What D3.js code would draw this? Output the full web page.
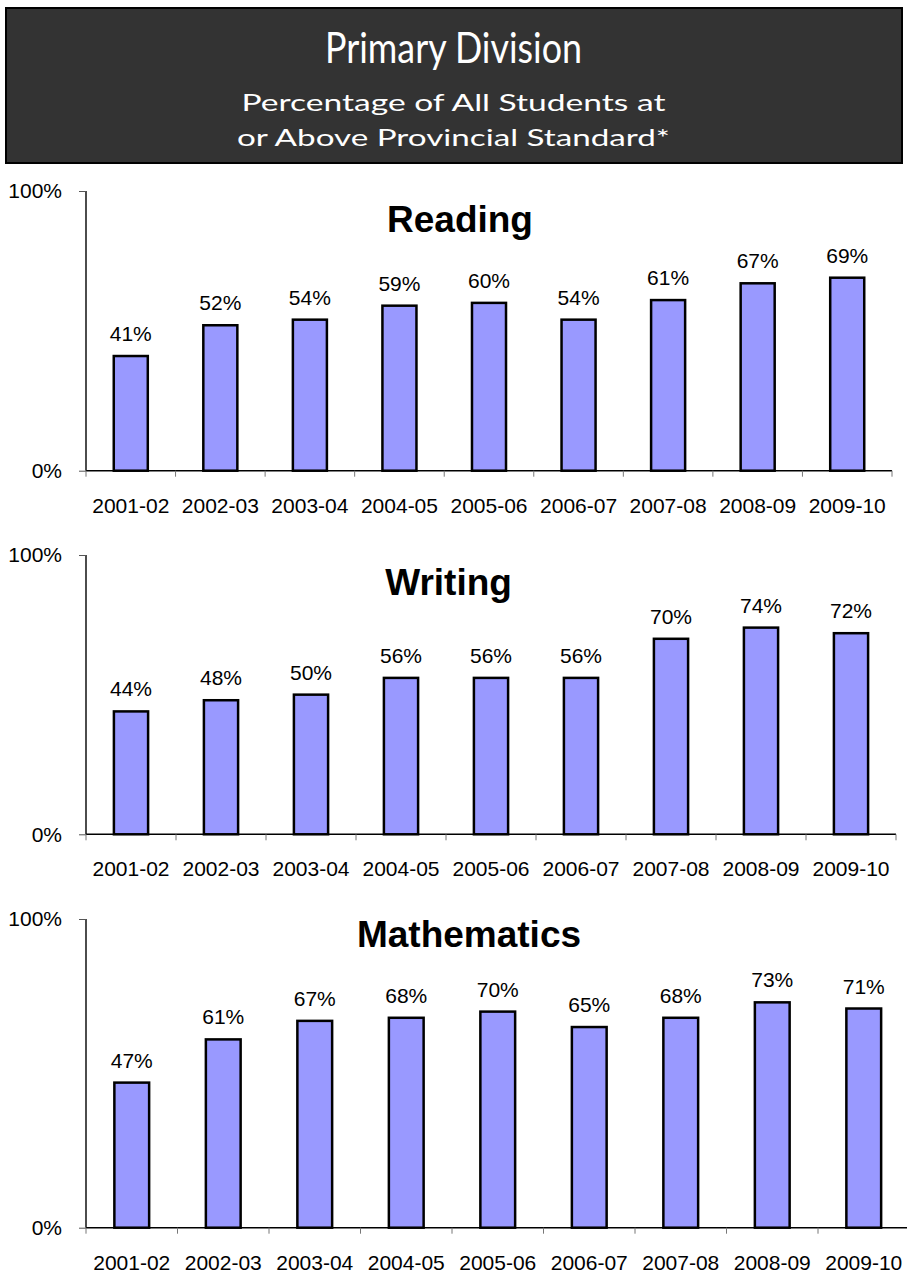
<!DOCTYPE html>
<html>
<head>
<meta charset="utf-8">
<script src="https://cdn.jsdelivr.net/npm/d3@7"></script>
<style>
  html, body { margin: 0; padding: 0; background: #fff; }
  svg { display: block; }
</style>
</head>
<body>
<svg id="chart" width="907" height="1275"></svg>
<script>
// ---- Data ----
const years = ["2001-02","2002-03","2003-04","2004-05","2005-06","2006-07","2007-08","2008-09","2009-10"];
const reading = [41, 52, 54, 59, 60, 54, 61, 67, 69];
const writing = [44, 48, 50, 56, 56, 56, 70, 74, 72];
const mathematics = [47, 61, 67, 68, 70, 65, 68, 73, 71];
const yTickValues = [0, 100];
const headerTitle = "Primary Division";
const headerLines = ["Percentage of All Students at", "or Above Provincial Standard*"];
const panelTitles = ["Reading", "Writing", "Mathematics"];

// ---- Layout ----
const svg = d3.select("#chart");
const panels = [
  { title: panelTitles[0], values: reading,     x0: 86, x1: 892,   yTop: 191, yBot: 470.7,  tx: 460,   ty: 232 },
  { title: panelTitles[1], values: writing,     x0: 86, x1: 896,   yTop: 555, yBot: 834.3,  tx: 448.5, ty: 595 },
  { title: panelTitles[2], values: mathematics, x0: 86, x1: 909.5, yTop: 919, yBot: 1227.7, tx: 469,   ty: 947 }
];

// Header
const hdr = svg.append("g");
hdr.append("rect").attr("x", 6).attr("y", 8).attr("width", 896).attr("height", 155)
  .attr("fill", "#333333").attr("stroke", "#000").attr("stroke-width", 2);
hdr.append("text").attr("x", 453.5).attr("y", 63).attr("text-anchor", "middle")
  .attr("fill", "#fff").attr("font-family", "Lato, 'Open Sans', sans-serif")
  .attr("font-size", 42).attr("font-weight", 400)
  .attr("textLength", 257).attr("lengthAdjust", "spacingAndGlyphs")
  .text(headerTitle);
const subW = [424, 433];
headerLines.forEach((t, i) => {
  hdr.append("text").attr("x", 453.5).attr("y", 111 + i * 34.5).attr("text-anchor", "middle")
    .attr("fill", "#fff").attr("font-family", "Lato, 'Open Sans', sans-serif")
    .attr("font-size", 24).attr("font-weight", 400)
    .attr("textLength", subW[i]).attr("lengthAdjust", "spacingAndGlyphs")
    .text(t);
});

const font = "'Liberation Sans', Arial, sans-serif";
const fs = 21;

panels.forEach(p => {
  const g = svg.append("g");
  const x = d3.scaleBand().domain(years).range([p.x0, p.x1]).paddingInner(0.62).paddingOuter(0.31);
  const xEdges = d3.scaleBand().domain(years).range([p.x0, p.x1]).padding(0);
  const y = d3.scaleLinear().domain([0, 100]).range([p.yBot, p.yTop]);

  // Y axis
  const yAxis = g.append("g").attr("transform", `translate(${p.x0},0)`)
    .call(d3.axisLeft(y).tickValues(yTickValues).tickFormat(d => d + "%").tickSize(7).tickPadding(17));
  yAxis.select(".domain").attr("stroke", "#000").attr("stroke-width", 1.4).attr("d", `M0,${p.yTop}V${p.yBot}`);
  yAxis.selectAll(".tick line").attr("stroke", "#555").attr("stroke-width", 1);
  yAxis.selectAll(".tick text").attr("font-family", font).attr("font-size", fs).attr("fill", "#000");

  // X axis
  const xAxis = g.append("g").attr("transform", `translate(0,${p.yBot})`)
    .call(d3.axisBottom(x).tickSize(0).tickPadding(0));
  xAxis.select(".domain").attr("stroke", "#000").attr("stroke-width", 1.4).attr("d", `M${p.x0},0H${p.x1}`);
  xAxis.selectAll(".tick text").attr("font-family", font).attr("font-size", fs).attr("fill", "#000")
    .attr("dy", 0).attr("y", 42);
  // category boundary ticks
  const edges = years.map(d => xEdges(d)).concat([p.x1]);
  g.append("g").selectAll("line").data(edges).join("line")
    .attr("x1", d => d).attr("x2", d => d).attr("y1", p.yBot).attr("y2", p.yBot + 6)
    .attr("stroke", "#777").attr("stroke-width", 1);

  // Bars
  g.append("g").selectAll("rect").data(p.values).join("rect")
    .attr("x", (d, i) => x(years[i]))
    .attr("width", x.bandwidth())
    .attr("y", d => y(d))
    .attr("height", d => y(0) - y(d))
    .attr("fill", "#9999FF").attr("stroke", "#000").attr("stroke-width", 2.5);

  // Value labels
  g.append("g").selectAll("text").data(p.values).join("text")
    .attr("x", (d, i) => x(years[i]) + x.bandwidth() / 2)
    .attr("y", d => y(d) - 15)
    .attr("text-anchor", "middle")
    .attr("font-family", font).attr("font-size", fs).attr("fill", "#000")
    .text(d => d + "%");

  // Panel title
  g.append("text").attr("x", p.tx).attr("y", p.ty).attr("text-anchor", "middle")
    .attr("font-family", font).attr("font-size", 37).attr("font-weight", 700).attr("fill", "#000")
    .text(p.title);
});
</script>
</body>
</html>
